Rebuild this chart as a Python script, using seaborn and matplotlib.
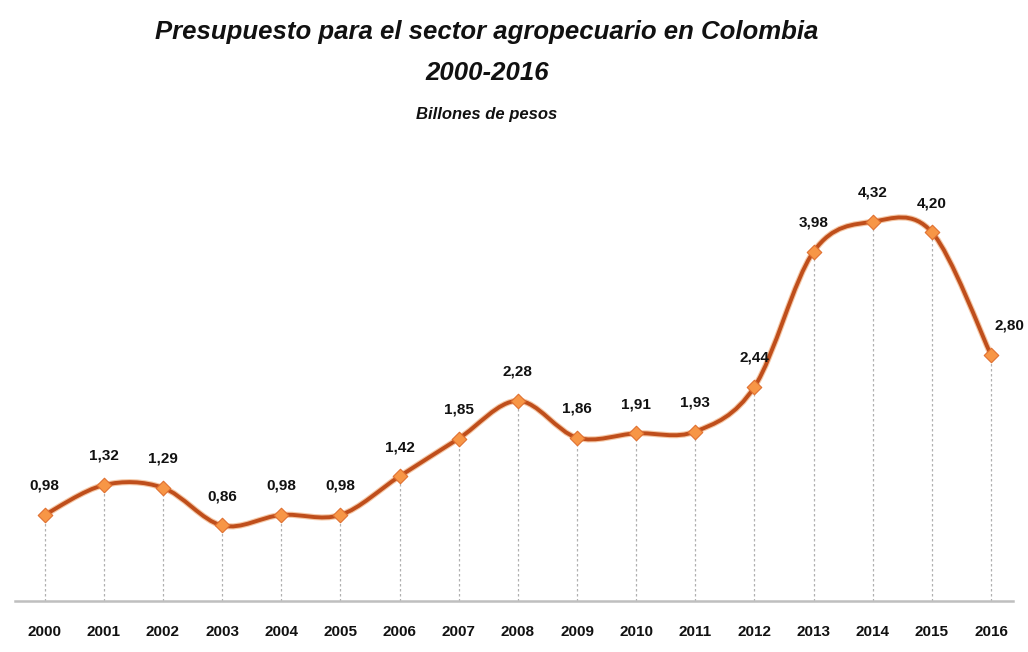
import matplotlib
matplotlib.use("Agg")
import matplotlib.pyplot as plt
import matplotlib.patheffects as pe
from matplotlib.path import Path
from matplotlib.patches import PathPatch
import seaborn as sns
import pandas as pd

years = ["2000", "2001", "2002", "2003", "2004", "2005", "2006", "2007", "2008",
         "2009", "2010", "2011", "2012", "2013", "2014", "2015", "2016"]
values = [0.98, 1.32, 1.29, 0.86, 0.98, 0.98, 1.42, 1.85, 2.28,
          1.86, 1.91, 1.93, 2.44, 3.98, 4.32, 4.20, 2.80]
title_lines = ["Presupuesto para el sector agropecuario en Colombia", "2000-2016"]
subtitle = "Billones de pesos"

sns.set_theme(style="white")
plt.rcParams["font.family"] = ["Liberation Sans", "DejaVu Sans"]

df = pd.DataFrame({"x": range(len(years)), "v": values})

fig = plt.figure(figsize=(10.28, 6.52), dpi=100)
fig.patch.set_facecolor("white")
ax = fig.add_axes([15 / 1028, 51 / 652, 998 / 1028, 439 / 652])
ax.set_facecolor("white")

# drop lines
ax.vlines(df["x"], 0, df["v"], colors="#B0B0B0", linestyles=(0, (2, 2)), linewidth=0.9, zorder=1)

# smoothed line (Bezier through data points)
xs = list(df["x"]); ys = list(df["v"])
n = len(xs)
verts = [(xs[0], ys[0])]
codes = [Path.MOVETO]
for i in range(n - 1):
    p0 = (xs[max(i - 1, 0)], ys[max(i - 1, 0)])
    p1 = (xs[i], ys[i])
    p2 = (xs[i + 1], ys[i + 1])
    p3 = (xs[min(i + 2, n - 1)], ys[min(i + 2, n - 1)])
    c1 = (p1[0] + (p2[0] - p0[0]) / 6, p1[1] + (p2[1] - p0[1]) / 6)
    c2 = (p2[0] - (p3[0] - p1[0]) / 6, p2[1] - (p3[1] - p1[1]) / 6)
    verts += [c1, c2, p2]
    codes += [Path.CURVE4] * 3
patch = PathPatch(Path(verts, codes), facecolor="none", edgecolor="#BF4E1B", linewidth=2.8, zorder=2,
                  capstyle="round", joinstyle="round")
patch.set_path_effects([pe.Stroke(linewidth=4.4, foreground="#F0B080", alpha=0.7), pe.Normal()])
ax.add_patch(patch)

sns.scatterplot(data=df, x="x", y="v", marker="D", s=55, color="#F79646",
                edgecolor="#E07030", linewidth=0.8, ax=ax, zorder=3)

for x, v in zip(xs, ys):
    dx = 13 if x == n - 1 else 0
    ax.annotate(f"{v:.2f}".replace(".", ","), (x, v), xytext=(dx, 21), textcoords="offset points",
                ha="center", va="center", fontsize=11, fontweight="bold", color="#111111", zorder=4)

ax.set_xlim(-0.5, 16.37)
ax.set_ylim(0, 5)
ax.set_xticks(range(len(years)))
ax.set_xticklabels(years, fontsize=11, fontweight="bold", color="#111111")
ax.tick_params(axis="x", length=0, pad=17)
ax.set_yticks([])
ax.set_xlabel(""); ax.set_ylabel("")
for s in ["top", "right", "left"]:
    ax.spines[s].set_visible(False)
ax.spines["bottom"].set_color("#BFBFBF")
ax.spines["bottom"].set_linewidth(1.8)

fig.text(487 / 1028, 1 - 32 / 652, title_lines[0], ha="center", va="center", fontsize=18.5,
         fontweight="bold", fontstyle="italic", color="#111111")
fig.text(487 / 1028, 1 - 73 / 652, title_lines[1], ha="center", va="center", fontsize=18.5,
         fontweight="bold", fontstyle="italic", color="#111111")
fig.text(487 / 1028, 1 - 115 / 652, subtitle, ha="center", va="center", fontsize=12,
         fontweight="bold", fontstyle="italic", color="#111111")

fig.savefig("out.png", dpi=100, facecolor="white")
